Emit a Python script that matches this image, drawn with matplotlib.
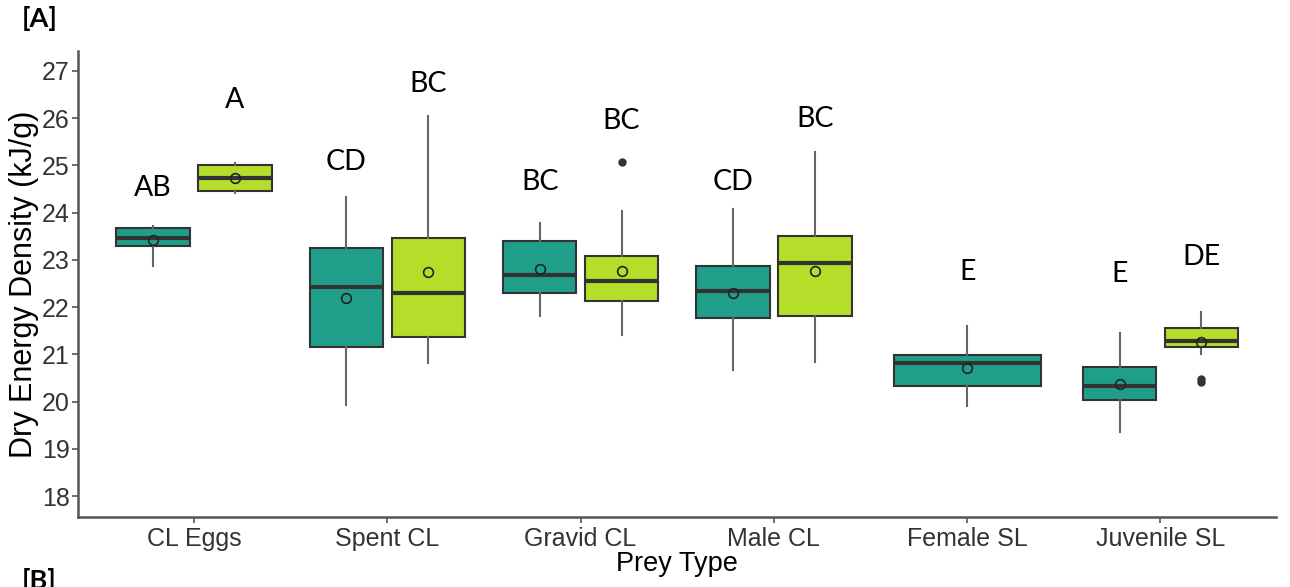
import matplotlib
matplotlib.use("Agg")
import matplotlib.pyplot as plt

categories = ["CL Eggs", "Spent CL", "Gravid CL", "Male CL", "Female SL", "Juvenile SL"]

# teal group (present for every prey type)
teal_whislo = [22.87, 19.92, 21.81, 20.67, 19.91, 19.35]
teal_q1 = [23.29, 21.16, 22.29, 21.78, 20.33, 20.04]
teal_med = [23.46, 22.43, 22.69, 22.35, 20.82, 20.33]
teal_q3 = [23.67, 23.26, 23.40, 22.87, 20.98, 20.74]
teal_whishi = [23.72, 24.34, 23.79, 24.07, 21.60, 21.46]
teal_mean = [23.42, 22.20, 22.80, 22.31, 20.72, 20.37]
teal_fliers = [[], [], [], [], [], []]
teal_letters = ["AB", "CD", "BC", "CD", "E", "E"]
teal_letter_y = [24.52, 25.07, 24.65, 24.65, 22.74, 22.70]

# yellow group (no Female SL)
yellow_whislo = [24.42, 20.81, 21.41, 20.84, None, 21.00]
yellow_q1 = [24.46, 21.37, 22.13, 21.81, None, 21.16]
yellow_med = [24.73, 22.30, 22.56, 22.94, None, 21.29]
yellow_q3 = [25.00, 23.46, 23.08, 23.50, None, 21.56]
yellow_whishi = [25.05, 26.05, 24.04, 25.29, None, 21.90]
yellow_mean = [24.74, 22.74, 22.77, 22.76, None, 21.27]
yellow_fliers = [[], [], [25.07], [], None, [20.42, 20.47]]
yellow_letters = ["A", "BC", "BC", "BC", None, "DE"]
yellow_letter_y = [26.39, 26.72, 25.94, 25.98, None, 23.06]

TEAL = "#1F9E89"
YELLOW = "#B5DE2B"
EDGE = "#333333"

fig = plt.figure(figsize=(12.9, 5.87), dpi=100)
ax = fig.add_axes([0.0605, 0.1193, 0.929, 0.7937])


def make_stats(lo, q1, med, q3, hi, mean, fl):
    return {"whislo": lo, "q1": q1, "med": med, "q3": q3, "whishi": hi,
            "mean": mean, "fliers": fl}


def draw(stats, positions, width, color):
    ax.bxp(stats, positions=positions, widths=width, patch_artist=True,
           showmeans=True, showcaps=False, manage_ticks=False,
           boxprops=dict(facecolor=color, edgecolor=EDGE, linewidth=1.5),
           medianprops=dict(color=EDGE, linewidth=3),
           whiskerprops=dict(color="#666666", linewidth=1.5),
           flierprops=dict(marker="o", markerfacecolor="#333333",
                           markeredgecolor="#333333", markersize=5),
           meanprops=dict(marker="o", markerfacecolor="none",
                          markeredgecolor="#222222", markersize=7,
                          markeredgewidth=1.2))


letter_font = dict(family=["Lato", "DejaVu Sans"], fontsize=20.5, color="black",
                   ha="center", va="center")

for i in range(len(categories)):
    paired = yellow_med[i] is not None
    off = 0.212 if paired else 0.0
    w = 0.38 if paired else 0.76
    st = make_stats(teal_whislo[i], teal_q1[i], teal_med[i], teal_q3[i],
                    teal_whishi[i], teal_mean[i], teal_fliers[i])
    draw([st], [i - off], w, TEAL)
    ax.text(i - off, teal_letter_y[i], teal_letters[i], **letter_font)
    if paired:
        st = make_stats(yellow_whislo[i], yellow_q1[i], yellow_med[i],
                        yellow_q3[i], yellow_whishi[i], yellow_mean[i],
                        yellow_fliers[i])
        draw([st], [i + off], w, YELLOW)
        ax.text(i + off, yellow_letter_y[i], yellow_letters[i], **letter_font)

ax.set_xlim(-0.6, 5.6)
ax.set_ylim(17.56, 27.42)
ax.set_xticks(range(len(categories)))
ax.set_xticklabels(categories)
ax.set_yticks(range(18, 28))

for s in ["top", "right"]:
    ax.spines[s].set_visible(False)
for s in ["left", "bottom"]:
    ax.spines[s].set_color("#555555")
    ax.spines[s].set_linewidth(1.8)

ax.tick_params(axis="both", colors="#555555", length=4, width=1.2,
               labelsize=18, labelcolor="#333333")
ax.tick_params(axis="y", pad=2)
for lab in ax.get_xticklabels() + ax.get_yticklabels():
    lab.set_family(["Liberation Sans", "DejaVu Sans"])

ax.set_xlabel("Prey Type", fontsize=19.5, family=["Liberation Sans"], labelpad=0)
ax.set_ylabel("Dry Energy Density (kJ/g)", fontsize=22,
              family=["Liberation Sans"], labelpad=2)

fig.text(0.017, 1 - 6 / 587, "[A]", fontsize=19.5, fontweight="bold",
         family=["Lato", "DejaVu Sans"], va="top", ha="left")
fig.text(0.017, 1 - 568 / 587, "[B]", fontsize=19.5, fontweight="bold",
         family=["Lato", "DejaVu Sans"], va="top", ha="left")

fig.savefig("out.png", dpi=100)
